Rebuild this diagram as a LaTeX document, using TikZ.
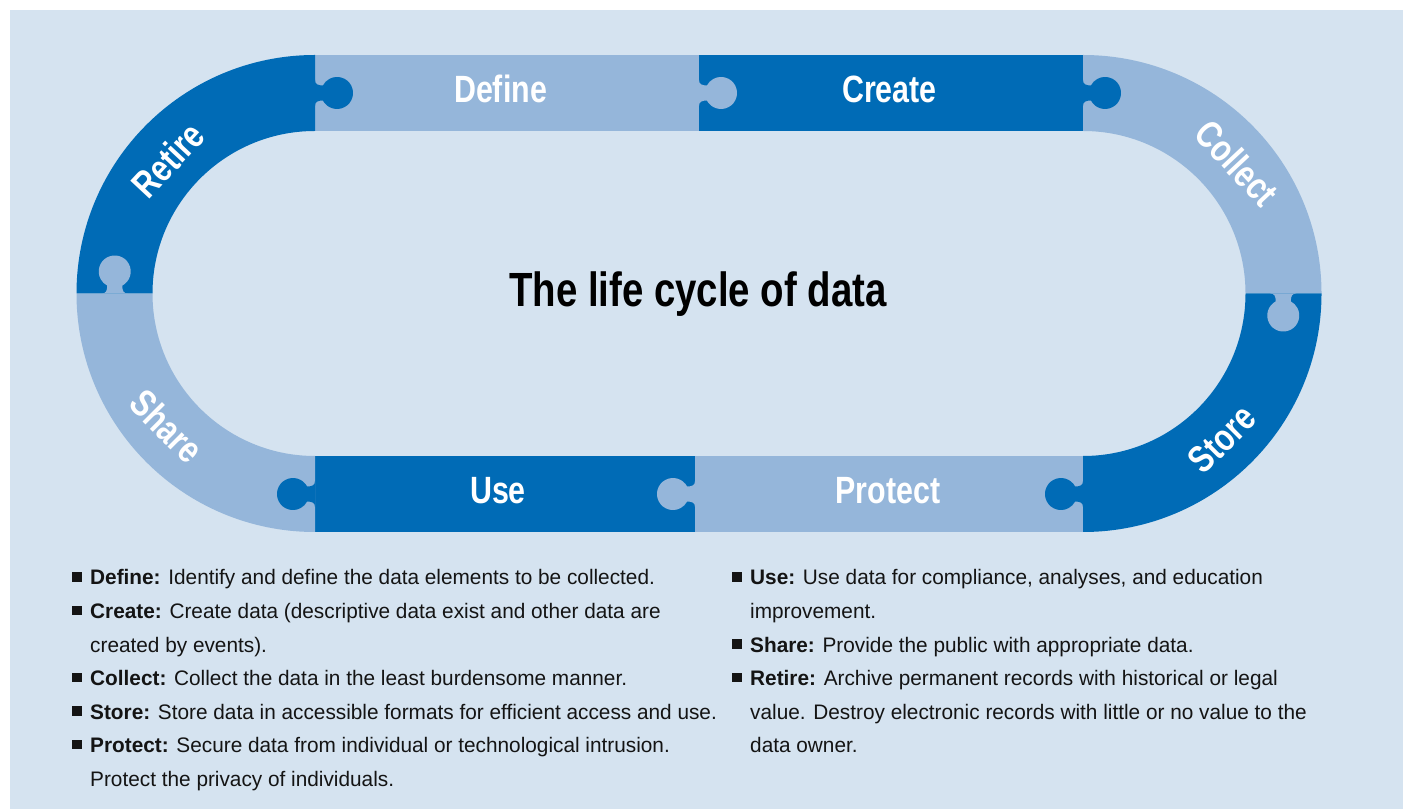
\documentclass[tikz,border=0pt]{standalone}
\usepackage{fontspec}
\setmainfont{Liberation Sans}[FakeStretch=0.8]
\newfontfamily\bodyfont{Liberation Sans}[FakeStretch=0.99]
\definecolor{bgc}{RGB}{213,227,240}
\definecolor{lightseg}{RGB}{149,182,218}
\definecolor{darkseg}{RGB}{0,107,182}
\definecolor{txt}{RGB}{20,20,20}
\tikzset{
  knob/.pic={\fill[#1] (0,-13) .. controls (0,-9) and (2.5,-7.5) .. (7.9,-7.5)
      arc[start angle=-152,end angle=152,radius=16]
      .. controls (2.5,7.5) and (0,9) .. (0,13) -- cycle;},
  seglabel/.style={text=white, font=\fontsize{38}{40}\selectfont\bfseries, inner sep=0},
  body/.style={anchor=base west, text=txt, font=\bodyfont\fontsize{21}{25}\selectfont, inner sep=0},
  bulletsq/.style={fill=txt, minimum size=9.5, inner sep=0, draw=none},
}
\begin{document}
\begin{tikzpicture}[x=1pt,y=1pt]
\useasboundingbox (0,0) rectangle (1403,809);
\fill[white] (0,0) rectangle (1403,809);
\fill[bgc] (10,0) rectangle (1403,799);
% segments
\fill[lightseg] (315,678) rectangle (699,754);            % Define
\fill[darkseg]  (699,678) rectangle (1083,754);           % Create
\fill[lightseg] (1083,754) arc[start angle=90,end angle=0,radius=238.5]
   -- (1245.5,515.5) arc[start angle=0,end angle=90,radius=162.5] -- cycle; % Collect
\fill[darkseg] (1321.5,515.5) arc[start angle=0,end angle=-90,radius=238.5]
   -- (1083,353) arc[start angle=-90,end angle=0,radius=162.5] -- cycle;   % Store
\fill[lightseg] (695,277) rectangle (1083,353);           % Protect
\fill[darkseg]  (315,277) rectangle (695,353);            % Use
\fill[lightseg] (315,277) arc[start angle=270,end angle=180,radius=238.5]
   -- (152.5,515.5) arc[start angle=180,end angle=270,radius=162.5] -- cycle; % Share
\fill[darkseg] (76.5,515.5) arc[start angle=180,end angle=90,radius=238.5]
   -- (315,678) arc[start angle=90,end angle=180,radius=162.5] -- cycle;   % Retire
% puzzle tabs
\pic at (315,716) {knob=darkseg};
\pic at (699,716) {knob=lightseg};
\pic at (1083,716) {knob=darkseg};
\pic[rotate=-90] at (1283.25,515.5) {knob=lightseg};
\pic[rotate=180] at (1083,315) {knob=darkseg};
\pic[rotate=180] at (695,315) {knob=lightseg};
\pic[rotate=180] at (315,315) {knob=darkseg};
\pic[rotate=90] at (114.75,515.5) {knob=lightseg};
% segment labels
\node[seglabel, anchor=base] (lDefine) at (500.5,706) {Define};
\node[seglabel, anchor=base] (lCreate) at (889.5,706) {Create};
\node[seglabel, anchor=base] (lUse) at (498,305) {Use};
\node[seglabel, anchor=base] (lProtect) at (888,305) {Protect};
\node[seglabel, rotate=47] (lRetire) at (168,649) {Retire};
\node[seglabel, rotate=-47] (lCollect) at (1237,646) {Collect};
\node[seglabel, rotate=45] (lStore) at (1222,370) {Store};
\node[seglabel, rotate=-45] (lShare) at (167,383) {Share};
% title
\node[anchor=base, text=black, inner sep=0, font=\fontsize{48}{50}\selectfont\bfseries] (title) at (698,502.3) {The life cycle of data};
% left column
\node[bulletsq] (b1) at (77,232) {};
\node[body] (t1) at (90,224) {\textbf{Define:} Identify and define the data elements to be collected.};
\node[bulletsq] (b2) at (77,198.5) {};
\node[body] (t2) at (90,190.5) {\textbf{Create:} Create data (descriptive data exist and other data are};
\node[body] (t3) at (90,157) {created by events).};
\node[bulletsq] (b4) at (77,131.5) {};
\node[body] (t4) at (90,123.5) {\textbf{Collect:} Collect the data in the least burdensome manner.};
\node[bulletsq] (b5) at (77,98) {};
\node[body] (t5) at (90,90) {\textbf{Store:} Store data in accessible formats for efficient access and use.};
\node[bulletsq] (b6) at (77,64.5) {};
\node[body] (t6) at (90,56.5) {\textbf{Protect:} Secure data from individual or technological intrusion.};
\node[body] (t7) at (90,23) {Protect the privacy of individuals.};
% right column
\node[bulletsq] (r1b) at (737,232) {};
\node[body] (r1) at (750,224) {\textbf{Use:} Use data for compliance, analyses, and education};
\node[body] (r2) at (750,190.5) {improvement.};
\node[bulletsq] (r3b) at (737,165) {};
\node[body] (r3) at (750,157) {\textbf{Share:} Provide the public with appropriate data.};
\node[bulletsq] (r4b) at (737,131.5) {};
\node[body] (r4) at (750,123.5) {\textbf{Retire:} Archive permanent records with historical or legal};
\node[body] (r5) at (750,90) {value. Destroy electronic records with little or no value to the};
\node[body] (r6) at (750,56.5) {data owner.};
\end{tikzpicture}
\end{document}
